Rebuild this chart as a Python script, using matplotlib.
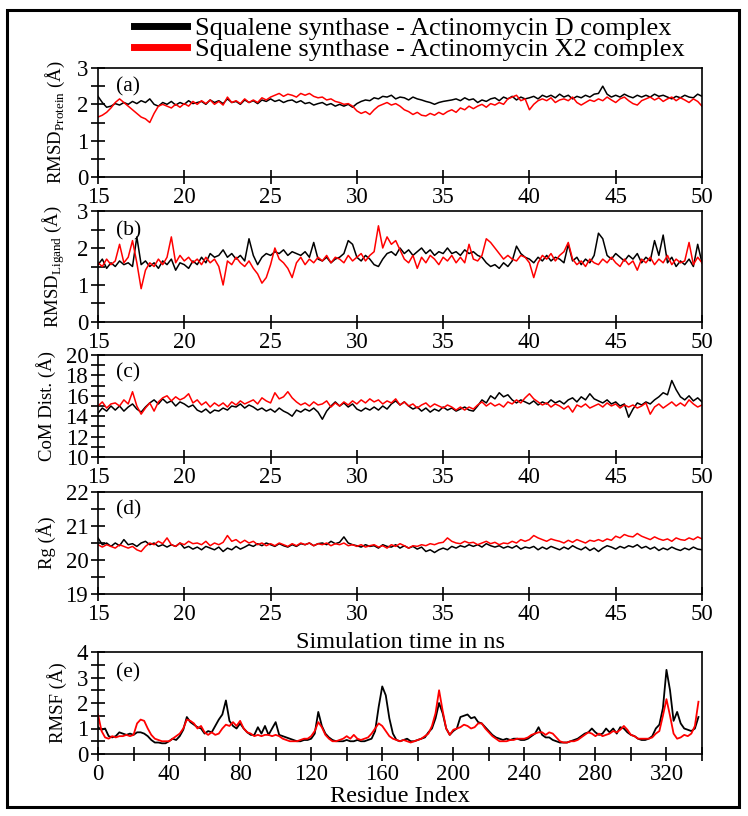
import numpy as np
import matplotlib
matplotlib.use("Agg")
import matplotlib.pyplot as plt
from matplotlib.patches import Rectangle
from matplotlib.ticker import MultipleLocator

plt.rcParams['font.family'] = ['Liberation Serif', 'DejaVu Serif']
plt.rcParams['mathtext.fontset'] = 'custom'
plt.rcParams['mathtext.rm'] = 'Liberation Serif'

# time axis, ns (one value every 0.25 ns)
time_ns = np.linspace(15, 50, 141)

rmsd_prot_d = [
    2.22, 2.05, 1.92, 1.95, 2.02, 1.98, 2.05, 2.0, 2.08, 2.02, 2.1, 2.05,
    2.15, 2.0, 1.95, 2.05, 2.0, 2.08, 1.98, 2.05, 2.0, 2.1, 2.02, 2.05,
    2.08, 2.0, 2.12, 2.05, 2.1, 2.02, 2.15, 2.05, 2.08, 2.0, 2.12, 2.05,
    2.1, 2.02, 2.12, 2.08, 2.15, 2.08, 2.12, 2.05, 2.1, 2.12, 2.05, 2.1,
    2.02, 2.05, 1.98, 2.02, 2.05, 1.98, 2.02, 1.95, 2.0, 1.95, 2.0, 1.92,
    2.02, 2.08, 2.12, 2.1, 2.18, 2.15, 2.22, 2.2, 2.25, 2.15, 2.2, 2.18,
    2.12, 2.2, 2.15, 2.12, 2.08, 2.05, 2.0, 2.05, 2.08, 2.1, 2.12, 2.15,
    2.1, 2.18, 2.12, 2.15, 2.05, 2.12, 2.08, 2.15, 2.18, 2.1, 2.2, 2.15,
    2.22, 2.12, 2.2, 2.15, 2.18, 2.22, 2.15, 2.25, 2.2, 2.25, 2.18, 2.28,
    2.2, 2.25, 2.15, 2.22, 2.18, 2.25, 2.2, 2.28, 2.3, 2.5, 2.28, 2.2,
    2.25, 2.2, 2.28, 2.22, 2.18, 2.25, 2.2, 2.25, 2.2, 2.28, 2.22, 2.25,
    2.2, 2.15, 2.22, 2.18, 2.25, 2.2, 2.18, 2.28, 2.22]
rmsd_prot_x2 = [
    1.65, 1.7, 1.78, 1.9, 2.05, 2.15, 2.05, 1.95, 1.85, 1.75, 1.65, 1.6,
    1.5, 1.75, 1.95, 2.0, 1.95, 1.9, 2.0, 1.92, 2.02, 1.95, 2.08, 2.0,
    2.1, 2.02, 2.12, 2.0, 2.08, 1.98, 2.2, 2.05, 2.1, 2.02, 2.15, 2.05,
    2.12, 2.05, 2.18, 2.12, 2.2, 2.25, 2.3, 2.22, 2.28, 2.25, 2.2, 2.3,
    2.25, 2.3, 2.22, 2.18, 2.2, 2.12, 2.15, 2.08, 2.05, 2.0, 2.02, 1.95,
    1.82, 1.75, 1.8, 1.72, 1.85, 1.95, 2.0, 2.05, 1.98, 2.02, 1.95, 1.85,
    1.8, 1.72, 1.78, 1.7, 1.68, 1.75, 1.7, 1.78, 1.72, 1.8, 1.85, 1.78,
    1.9, 1.85, 1.95, 1.88, 1.95, 2.0, 1.92, 2.02, 1.98, 2.05, 2.0, 2.15,
    2.2, 2.25, 2.1, 2.15, 1.85, 2.0, 2.1, 2.15, 2.1, 2.18, 2.05, 2.12,
    2.15, 2.1, 2.2, 2.05, 1.98, 2.05, 2.12, 2.08, 2.15, 2.1, 2.2, 2.12,
    2.05, 2.15, 2.2, 2.1, 2.02, 1.98, 2.1, 2.15, 2.2, 2.12, 2.18, 2.08,
    2.15, 2.2, 2.1, 2.18, 2.12, 2.05, 2.15, 2.08, 1.95]

rmsd_lig_d = [
    1.55, 1.7, 1.45, 1.6, 1.5, 1.65, 1.55, 1.6, 1.5, 2.3, 1.55, 1.65,
    1.5, 1.6, 1.45, 1.65, 1.55, 1.7, 1.4, 1.6, 1.55, 1.45, 1.65, 1.55,
    1.75, 1.6, 1.85, 1.75, 1.8, 1.95, 1.75, 1.85, 1.7, 1.8, 1.65, 2.25,
    1.8, 1.55, 1.75, 1.85, 1.8, 1.9, 1.85, 1.95, 1.8, 1.9, 1.85, 1.8,
    1.9, 1.75, 2.15, 1.7, 1.65, 1.75, 1.6, 1.7, 1.75, 1.85, 2.2, 2.1,
    1.75, 1.65, 1.8, 1.7, 1.55, 1.5, 1.7, 1.85, 1.9, 1.8, 2.0, 1.85,
    1.95, 1.8, 1.9, 2.0, 1.85, 1.95, 1.8, 1.9, 1.85, 2.0, 1.85, 1.9,
    1.8, 1.95, 1.85, 1.9, 1.8, 1.75, 1.6, 1.5, 1.55, 1.45, 1.6, 1.5,
    1.65, 2.05, 1.85, 1.75, 1.7, 1.6, 1.75, 1.65, 1.8, 1.65, 1.75, 1.7,
    1.6, 2.1, 1.65, 1.75, 1.55, 1.7, 1.6, 1.8, 2.4, 2.25, 1.8, 1.7,
    1.85, 1.75, 1.65, 1.8, 1.7, 1.85, 1.6, 1.75, 1.65, 2.2, 1.8, 2.35,
    1.6, 1.75, 1.5, 1.65, 1.55, 1.7, 1.5, 2.1, 1.6]
rmsd_lig_x2 = [
    1.6, 1.5, 1.7, 1.55, 1.65, 2.1, 1.6, 1.75, 2.2, 1.6, 0.9, 1.4,
    1.6, 1.5, 1.7, 1.55, 1.75, 2.3, 1.6, 1.8, 1.65, 1.75, 1.6, 1.7,
    1.55, 1.75, 1.6, 1.7, 1.5, 1.0, 1.65, 1.55, 1.75, 1.6, 1.5, 1.65,
    1.45, 1.3, 1.05, 1.2, 1.55, 2.0, 1.7, 1.6, 1.45, 1.2, 1.6, 1.75,
    1.55, 1.7, 1.6, 1.75, 1.65, 1.8, 1.6, 1.75, 1.7, 1.6, 1.8, 1.65,
    1.75, 1.85, 1.65, 1.8, 1.9, 2.6, 2.0, 2.3, 2.1, 2.2, 1.95, 1.7,
    1.6, 1.8, 1.45, 1.75, 1.6, 1.8, 1.7, 1.55, 1.75, 1.65, 1.8, 1.6,
    1.75, 1.6, 2.1, 1.7, 1.65, 1.8, 2.25, 2.15, 2.0, 1.85, 1.7, 1.8,
    1.7, 1.65, 1.8, 1.75, 1.6, 1.2, 1.6, 1.8, 1.7, 1.85, 1.65, 1.8,
    1.9, 2.15, 1.7, 1.55, 1.65, 1.5, 1.7, 1.6, 1.55, 1.7, 1.6, 1.75,
    1.6, 1.5, 1.7, 1.55, 1.65, 1.4, 1.7, 1.6, 1.75, 1.55, 1.7, 1.6,
    1.8, 1.55, 1.7, 1.6, 1.65, 2.15, 1.55, 1.75, 1.6]

com_d = [
    14.3, 14.8, 14.5, 15.0, 14.6, 15.0, 14.5, 14.9, 15.2, 14.7, 14.4, 14.9,
    15.3, 15.6, 15.2, 15.7, 15.3, 15.5, 15.0, 15.4, 15.2, 14.9, 15.1, 14.6,
    14.4, 14.7, 14.3, 14.6, 14.5, 14.8, 14.6, 15.0, 14.9, 15.2, 14.8, 15.1,
    14.9, 14.6, 14.8, 14.5, 14.7, 14.4, 14.8, 14.5, 14.3, 14.0, 14.6, 14.4,
    14.7, 14.5, 14.8, 14.4, 13.7, 14.5, 15.0, 15.4, 15.0, 15.3, 14.9, 15.2,
    14.7, 14.5, 14.8, 14.6, 14.9, 14.6, 15.0, 14.7, 15.2, 15.5, 15.1, 15.4,
    15.0, 14.7, 14.9, 14.5, 14.8, 14.4, 14.7, 14.5, 14.9, 14.6, 14.8, 14.5,
    14.7, 14.9, 14.6, 14.5, 15.0, 15.6, 15.3, 16.0, 15.7, 16.3, 15.9, 16.1,
    15.6, 15.3, 15.6, 15.4, 15.2, 15.5, 15.1, 15.4, 15.2, 15.6, 15.3, 15.5,
    15.2, 15.6, 15.8, 15.4, 15.9, 15.6, 16.2, 15.7, 15.5, 15.3, 15.6, 15.2,
    15.4, 15.0, 15.2, 13.9, 14.7, 15.3, 15.1, 15.4, 15.2, 15.6, 15.9, 16.3,
    16.1, 17.5, 16.6, 15.9, 15.6, 16.0, 15.5, 15.8, 15.4]
com_x2 = [
    15.0, 15.4, 14.8, 15.2, 15.3, 15.0, 15.6, 15.2, 16.4, 15.0, 14.2, 14.8,
    15.3, 14.5, 15.4, 15.8, 16.0, 15.5, 15.9, 15.6, 15.8, 16.2, 15.3, 15.6,
    15.1, 15.4, 14.9, 15.3, 15.0, 15.3, 14.9, 15.4, 15.1, 15.5, 15.2, 15.4,
    15.6, 15.2, 15.8, 15.5, 15.3, 16.3, 15.7, 15.9, 16.4, 15.8, 15.4, 15.1,
    15.3, 15.0, 15.4, 15.1, 15.2, 15.5, 14.9, 15.3, 15.0, 15.4, 15.1, 15.5,
    15.2, 15.6, 15.3, 15.7, 15.4, 15.6, 15.2, 15.5, 15.3, 15.7, 15.1, 15.4,
    15.0, 15.2, 14.8, 15.1, 15.3, 14.9, 15.2, 15.0, 14.8, 15.1, 14.9, 14.6,
    14.9, 14.6, 14.9, 14.7, 15.1, 15.4, 15.0, 15.3, 15.0, 15.2, 14.9, 15.4,
    15.2, 15.6, 15.3, 15.8, 16.2, 15.7, 15.4, 15.1, 15.3, 14.9, 15.2, 15.0,
    14.7, 15.0, 14.4, 15.1, 14.9, 15.2, 14.8, 15.0, 15.2, 14.9, 15.3, 15.0,
    15.2, 14.8, 15.1, 14.9, 15.1, 14.8, 15.0, 15.3, 14.2, 14.9, 15.2, 14.8,
    15.1, 15.4, 15.0, 15.3, 15.0, 15.6, 15.2, 14.9, 15.1]

rg_d = [
    20.65, 20.45, 20.5, 20.4, 20.5, 20.42, 20.6, 20.45, 20.48, 20.4, 20.5, 20.55,
    20.45, 20.5, 20.4, 20.45, 20.38, 20.45, 20.4, 20.5, 20.35, 20.4, 20.32, 20.38,
    20.3, 20.4, 20.35, 20.3, 20.38, 20.25, 20.35, 20.3, 20.4, 20.32, 20.38, 20.45,
    20.4, 20.48, 20.42, 20.5, 20.45, 20.4, 20.48, 20.42, 20.38, 20.45, 20.4, 20.48,
    20.45, 20.5, 20.42, 20.48, 20.5, 20.45, 20.55, 20.48, 20.52, 20.68, 20.5, 20.45,
    20.42, 20.38, 20.45, 20.4, 20.42, 20.35, 20.45, 20.4, 20.38, 20.45, 20.35, 20.42,
    20.35, 20.4, 20.32, 20.38, 20.25, 20.3, 20.22, 20.3, 20.35, 20.3, 20.4, 20.35,
    20.42, 20.38, 20.45, 20.4, 20.45, 20.38, 20.48, 20.42, 20.38, 20.42, 20.35, 20.4,
    20.35, 20.42, 20.32, 20.38, 20.35, 20.4, 20.3, 20.38, 20.32, 20.4, 20.35, 20.3,
    20.38, 20.32, 20.42, 20.35, 20.3, 20.38, 20.28, 20.35, 20.25, 20.35, 20.42, 20.38,
    20.32, 20.4, 20.35, 20.42, 20.38, 20.45, 20.35, 20.4, 20.32, 20.38, 20.28, 20.35,
    20.3, 20.38, 20.32, 20.28, 20.35, 20.3, 20.38, 20.32, 20.3]
rg_x2 = [
    20.45, 20.38, 20.45, 20.4, 20.35, 20.45, 20.4, 20.35, 20.4, 20.3, 20.25, 20.4,
    20.5, 20.45, 20.55, 20.48, 20.65, 20.45, 20.4, 20.5, 20.45, 20.55, 20.48, 20.5,
    20.45, 20.55, 20.42, 20.5, 20.45, 20.52, 20.72, 20.55, 20.6, 20.5, 20.58, 20.5,
    20.55, 20.45, 20.5, 20.42, 20.48, 20.42, 20.5, 20.45, 20.4, 20.48, 20.42, 20.5,
    20.45, 20.5, 20.42, 20.48, 20.45, 20.5, 20.42, 20.48, 20.45, 20.5, 20.42, 20.45,
    20.4, 20.45, 20.38, 20.42, 20.45, 20.38, 20.42, 20.35, 20.45, 20.4, 20.48, 20.42,
    20.35, 20.42, 20.4, 20.45, 20.42, 20.48, 20.45, 20.5, 20.52, 20.65, 20.55, 20.5,
    20.48, 20.55, 20.5, 20.52, 20.45, 20.5, 20.55, 20.48, 20.52, 20.45, 20.5, 20.48,
    20.55, 20.5, 20.6, 20.55, 20.6, 20.72, 20.65, 20.6, 20.55, 20.62, 20.58, 20.55,
    20.5, 20.58, 20.52, 20.6, 20.55, 20.5, 20.58, 20.55, 20.6, 20.55, 20.62, 20.58,
    20.7, 20.65, 20.75, 20.7, 20.68, 20.78, 20.7, 20.65, 20.6, 20.68, 20.62, 20.58,
    20.62, 20.55, 20.65, 20.6, 20.58, 20.65, 20.6, 20.68, 20.62]

# residue index (every 2nd residue)
residue = np.arange(0, 339, 2)
rmsf_d = [
    1.05, 0.95, 1.0, 0.7, 0.65, 0.7, 0.85, 0.8, 0.75, 0.8, 0.75, 0.85, 0.85, 0.8,
    0.7, 0.55, 0.45, 0.45, 0.42, 0.42, 0.5, 0.6, 0.55, 0.7, 0.95, 1.45, 1.25, 1.15,
    1.05, 1.0, 0.8, 0.9, 0.85, 1.1, 1.35, 1.55, 2.1, 1.3, 1.1, 1.0, 1.2, 1.0,
    0.85, 0.75, 0.75, 1.05, 0.8, 1.1, 0.75, 1.0, 1.25, 0.75, 0.7, 0.65, 0.6, 0.55,
    0.5, 0.5, 0.55, 0.55, 0.6, 0.8, 1.65, 1.1, 0.8, 0.65, 0.55, 0.5, 0.5, 0.5,
    0.55, 0.5, 0.5, 0.55, 0.5, 0.5, 0.55, 0.6, 0.9, 1.85, 2.65, 2.3, 1.4, 0.8,
    0.55, 0.5, 0.55, 0.6, 0.5, 0.5, 0.55, 0.6, 0.65, 0.85, 1.0, 1.4, 2.0, 1.6,
    1.0, 0.75, 0.9, 1.0, 1.45, 1.5, 1.55, 1.4, 1.45, 1.25, 1.2, 1.05, 0.9, 0.75,
    0.65, 0.6, 0.55, 0.6, 0.55, 0.6, 0.6, 0.55, 0.55, 0.6, 0.7, 0.8, 1.05, 0.75,
    0.65, 0.65, 0.55, 0.5, 0.45, 0.45, 0.45, 0.5, 0.55, 0.6, 0.7, 0.8, 0.85, 1.0,
    0.85, 0.75, 0.8, 1.0, 0.85, 1.0, 0.8, 1.05, 1.0, 0.85, 0.75, 0.7, 0.6, 0.55,
    0.55, 0.6, 0.7, 1.0, 1.15, 1.8, 3.3, 2.5, 1.3, 1.65, 1.2, 1.0, 0.95, 0.9,
    1.0, 1.45]
rmsf_x2 = [
    1.55, 0.9, 0.65, 0.6, 0.7, 0.65, 0.7, 0.7, 0.75, 0.7, 0.75, 1.2, 1.35, 1.3,
    1.0, 0.75, 0.6, 0.55, 0.5, 0.5, 0.5, 0.6, 0.7, 0.8, 1.0, 1.35, 1.3, 1.2,
    1.0, 1.1, 0.85, 0.75, 0.85, 0.75, 0.8, 1.0, 1.15, 1.1, 1.25, 1.1, 1.3, 1.0,
    0.85, 0.8, 0.7, 0.75, 0.7, 0.75, 0.75, 0.7, 0.75, 0.7, 0.6, 0.55, 0.5, 0.5,
    0.5, 0.55, 0.6, 0.6, 0.7, 0.9, 1.25, 1.05, 0.75, 0.6, 0.5, 0.5, 0.55, 0.6,
    0.7, 0.6, 0.75, 0.6, 0.55, 0.6, 0.65, 0.8, 1.0, 1.2, 1.1, 0.9, 0.7, 0.6,
    0.55, 0.5, 0.55, 0.5, 0.45, 0.5, 0.55, 0.6, 0.7, 0.8, 1.1, 1.6, 2.5, 1.7,
    1.0, 0.75, 0.95, 1.0, 1.05, 1.15, 1.1, 1.0, 1.05, 1.2, 1.2, 1.0, 0.85, 0.7,
    0.6, 0.5, 0.5, 0.5, 0.55, 0.55, 0.6, 0.6, 0.6, 0.65, 0.75, 0.8, 0.85, 0.85,
    0.75, 0.85, 0.8, 0.65, 0.5, 0.45, 0.45, 0.5, 0.5, 0.55, 0.65, 0.75, 0.85, 0.8,
    0.7, 0.8, 0.7, 0.75, 0.8, 0.9, 0.85, 0.95, 1.1, 0.95, 0.75, 0.7, 0.6, 0.6,
    0.6, 0.6, 0.65, 0.8, 0.9, 1.5, 2.15, 1.5, 0.8, 0.6, 0.65, 0.75, 0.7, 0.8,
    1.1, 2.05]

labels = ["Squalene synthase - Actinomycin D complex",
          "Squalene synthase - Actinomycin X2 complex"]

W, H = 748, 816
fig = plt.figure(figsize=(W / 100, H / 100), dpi=100)

def add_ax(top, bottom):
    return fig.add_axes([98 / W, 1 - bottom / H, 604 / W, (bottom - top) / H])

def style(ax):
    for s in ax.spines.values():
        s.set_linewidth(1.2)
    ax.tick_params(which='both', direction='inout', length=10, width=1.2,
                   labelsize=16.5, top=False, right=False, pad=2)

panels = [
    (68, 177, rmsd_prot_d, rmsd_prot_x2, (0, 3), 1, 0.5,
     'RMSD$_{\\mathrm{Protein}}$ (Å)', '(a)'),
    (211, 322, rmsd_lig_d, rmsd_lig_x2, (0, 3), 1, 0.5,
     'RMSD$_{\\mathrm{Ligand}}$ (Å)', '(b)'),
    (355, 457, com_d, com_x2, (10, 20), 2, 1, 'CoM Dist. (Å)', '(c)'),
    (492, 594, rg_d, rg_x2, (19, 22), 1, 0.5, 'Rg (Å)', '(d)'),
]

for top, bottom, yd, yx, ylim, maj, mnr, ylab, tag in panels:
    ax = add_ax(top, bottom)
    ax.plot(time_ns, yd, color='black', lw=1.1)
    ax.plot(time_ns, yx, color='red', lw=1.1)
    ax.set_xlim(15, 50)
    ax.set_ylim(*ylim)
    ax.xaxis.set_major_locator(MultipleLocator(5))
    ax.yaxis.set_major_locator(MultipleLocator(maj))
    ax.yaxis.set_minor_locator(MultipleLocator(mnr))
    style(ax)
    ax.set_ylabel(ylab, fontsize=13.5, labelpad=7)
    ax.text(0.03, 0.78, tag, transform=ax.transAxes, fontsize=15.5)

ax.set_xlabel('Simulation time in ns', fontsize=17.5, labelpad=5)

ax = add_ax(652, 754)
ax.plot(residue, rmsf_d, color='black', lw=1.3)
ax.plot(residue, rmsf_x2, color='red', lw=1.3)
ax.set_xlim(0, 340)
ax.set_ylim(0, 4)
ax.xaxis.set_major_locator(MultipleLocator(40))
ax.xaxis.set_minor_locator(MultipleLocator(20))
ax.yaxis.set_major_locator(MultipleLocator(1))
ax.yaxis.set_minor_locator(MultipleLocator(0.5))
style(ax)
ax.set_ylabel('RMSF (Å)', fontsize=13.5, labelpad=7)
ax.set_xlabel('Residue Index', fontsize=17.5, labelpad=1)
ax.text(0.03, 0.75, '(e)', transform=ax.transAxes, fontsize=15.5)

h1, = ax.plot([], [], color='black', lw=5)
h2, = ax.plot([], [], color='red', lw=5)
fig.legend([h1, h2], labels, loc='upper center', bbox_to_anchor=(0.547, 1 - 17 / H),
           frameon=False, fontsize=19, handlelength=2.0, handletextpad=0.3,
           labelspacing=-0.1, borderaxespad=0, borderpad=0)

fig.patches.append(Rectangle((7 / W, 1 - 807 / H), 732 / W, 797 / H,
                             transform=fig.transFigure, fill=False,
                             edgecolor='black', lw=2.2))

fig.savefig('out.png', dpi=100)
